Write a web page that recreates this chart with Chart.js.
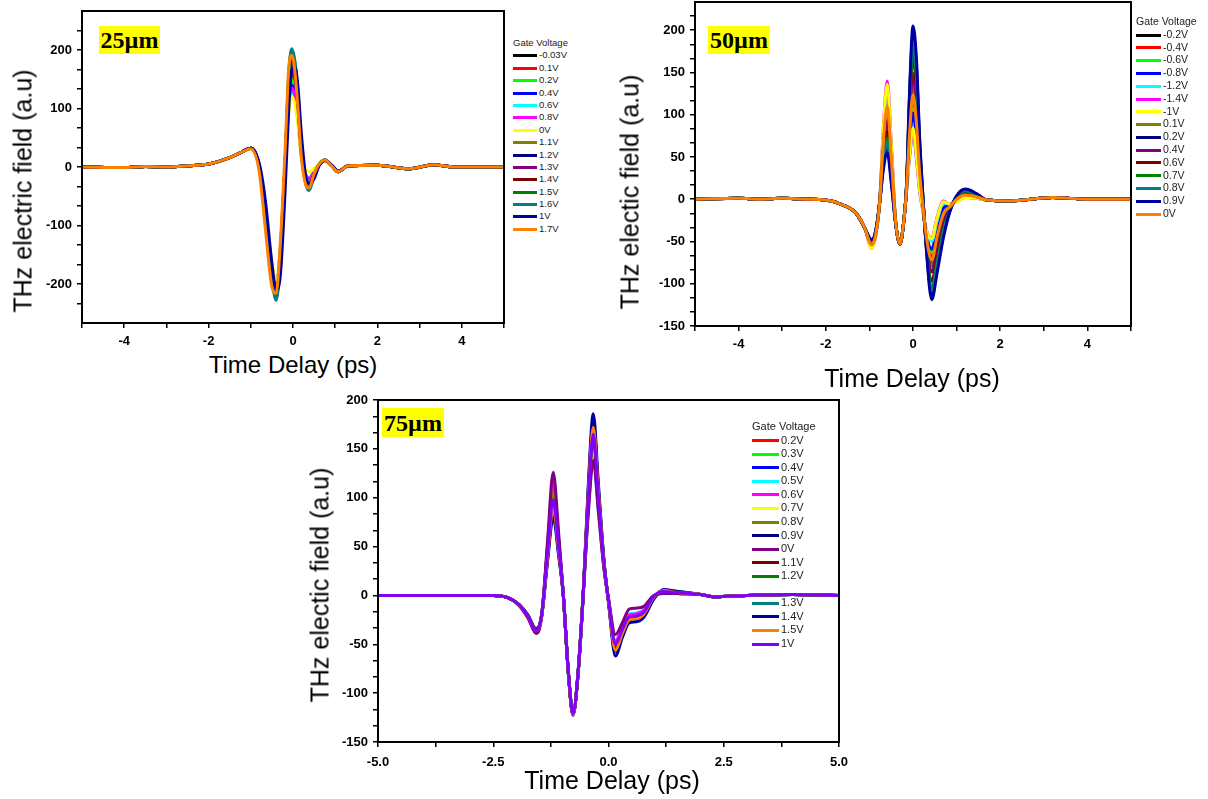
<!DOCTYPE html>
<html>
<head>
<meta charset="utf-8">
<script src="https://cdn.jsdelivr.net/npm/chart.js@4.4.1/dist/chart.umd.min.js"></script>
<style>
body { margin:0; background:#fff; }
#page { position:relative; width:1208px; height:799px; overflow:hidden; font-family:"Liberation Sans", Arial, sans-serif; background:#fff; }
canvas { position:absolute; }
.tag { position:absolute; background:#ffff00; font:bold 24px "Liberation Serif", "Times New Roman", serif; color:#000; text-align:center; }
.ttl { position:absolute; white-space:nowrap; color:#000; transform:translate(-50%,-50%); }
.ytl { transform:translate(-50%,-50%) rotate(-90deg); }
.legend { position:absolute; color:#222; white-space:nowrap; }
.legend span { display:inline-block; vertical-align:middle; margin-right:2px; }
</style>
</head>
<body>
<div id="page">
  <canvas id="c25" width="510" height="350" style="left:0;top:0"></canvas>
  <canvas id="c50" width="540" height="350" style="left:600px;top:0"></canvas>
  <canvas id="c75" width="560" height="385" style="left:300px;top:390px"></canvas>

  <div class="tag" style="left:99px;top:26px;width:61px;height:28px;line-height:29px">25µm</div>
  <div class="tag" style="left:708px;top:26px;width:62px;height:28px;line-height:29px">50µm</div>
  <div class="tag" style="left:382px;top:408px;width:62px;height:29px;line-height:30px">75µm</div>

  <div class="ttl ytl" style="left:23px;top:191px;font-size:25px;line-height:25px">THz electric field (a.u)</div>
  <div class="ttl ytl" style="left:630px;top:192px;font-size:25px;line-height:25px">THz electic field (a.u)</div>
  <div class="ttl ytl" style="left:320px;top:585px;font-size:25px;line-height:25px">THz electic field (a.u)</div>

  <div class="ttl" style="left:293px;top:365px;font-size:24px;line-height:24px">Time Delay (ps)</div>
  <div class="ttl" style="left:912px;top:378px;font-size:25px;line-height:25px">Time Delay (ps)</div>
  <div class="ttl" style="left:612px;top:780px;font-size:25px;line-height:25px">Time Delay (ps)</div>

  <div class="legend" id="lg25" style="left:513px;top:37px"></div>
  <div class="legend" id="lg50" style="left:1136px;top:15px"></div>
  <div class="legend" id="lg75" style="left:752px;top:420px"></div>
</div>
<script>
// ---------- 25um panel ----------
var t25 = [-5,-4,-3.5,-3,-2.5,-2,-1.5,-1.2,-1.0,-0.8,-0.65,-0.5,-0.4,-0.3,-0.19,-0.1,-0.03,0.05,0.12,0.2,0.3,0.38,0.5,0.62,0.76,0.92,1.07,1.3,2.0,2.74,3.34,3.8,5];
var gates25 = ['-0.03V','0.1V','0.2V','0.4V','0.6V','0.8V','0V','1.1V','1.2V','1.3V','1.4V','1.5V','1.6V','1V','1.7V'];
var e25_m003 = [0,-1,1,0,2,5,16,26,32,1,-83,-176,-210,-147,0,138,175,154,104,24,-22,-30,-12,4,11,2,-8,2,3,-3,4,0,0];
var e25_01 = [0,-1,1,0,2,5,16,26,32,1,-81,-172,-205,-143,0,126,160,141,95,22,-18,-25,-10,4,11,2,-8,2,3,-3,4,0,0];
var e25_02 = [0,-1,1,0,2,5,16,26,32,1,-81,-172,-205,-143,0,118,150,132,89,21,-16,-22,-9,4,11,2,-8,2,3,-3,4,0,0];
var e25_04 = [0,-1,1,0,2,5,16,26,32,1,-79,-168,-200,-140,0,110,140,124,83,19,-14,-20,-8,4,11,2,-8,2,3,-3,4,0,0];
var e25_06 = [0,-1,1,0,2,5,16,26,32,1,-78,-166,-198,-138,0,102,130,115,77,18,-12,-18,-7,4,11,2,-8,2,3,-3,4,0,0];
var e25_08 = [0,-1,1,0,2,5,16,26,32,1,-79,-168,-200,-140,0,106,135,119,80,18,-13,-20,-8,4,11,2,-8,2,3,-3,4,0,0];
var e25_0 = [0,-1,1,0,2,5,16,26,32,1,-76,-162,-193,-135,0,94,120,106,71,16,-4,-8,-3,5,10,2,-7,2,3,-3,4,0,0];
var e25_11 = [0,-1,1,0,2,5,16,26,32,0,-85,-180,-215,-151,0,142,180,159,107,25,-23,-32,-13,4,12,2,-8,2,3,-3,4,0,0];
var e25_12 = [0,-1,1,0,2,5,16,26,32,0,-86,-182,-218,-153,0,146,185,163,110,26,-24,-33,-13,4,12,2,-8,2,3,-3,4,0,0];
var e25_13 = [0,-1,1,0,2,5,16,26,32,1,-84,-178,-212,-149,0,134,170,150,101,24,-21,-30,-12,4,11,2,-8,2,3,-3,4,0,0];
var e25_14 = [0,-1,1,0,2,5,16,26,32,0,-87,-184,-220,-154,0,149,188,166,112,26,-25,-35,-14,4,12,2,-8,2,3,-3,4,0,0];
var e25_15 = [0,-1,1,0,2,5,16,26,32,0,-89,-188,-225,-158,0,157,199,175,118,27,-27,-38,-15,4,12,2,-8,2,3,-3,4,0,0];
var e25_16 = [0,-1,1,0,2,5,16,26,32,0,-90,-190,-228,-160,0,160,202,178,120,28,-28,-40,-16,4,12,2,-8,2,3,-3,4,0,0];
var e25_1 = [0,-1,1,0,2,5,16,26,32,6,-60,-165,-210,-185,-45,100,165,170,135,55,-15,-28,-20,2,11,3,-7,2,3,-3,4,0,0];
var e25_17 = [0,-1,1,0,2,5,16,26,31,-8,-110,-205,-216,-130,25,170,191,160,98,15,-30,-36,-12,5,12,1,-8,2,3,-3,4,0,0];
var field25 = [e25_m003,e25_01,e25_02,e25_04,e25_06,e25_08,e25_0,e25_11,e25_12,e25_13,e25_14,e25_15,e25_16,e25_1,e25_17];
var xTicks25 = [-5,-4,-3,-2,-1,0,1,2,3,4,5];
var xLabels25 = [-4,-2,0,2,4];
var yTicks25 = [-233.33,-200,-166.67,-133.33,-100,-66.67,-33.33,0,33.33,66.67,100,133.33,166.67,200,233.33];
var yLabels25 = [-200,-100,0,100,200];

// ---------- 50um panel ----------
var t50 = [-5,-4,-3.5,-3,-2.5,-2,-1.6,-1.3,-1.1,-0.95,-0.85,-0.76,-0.68,-0.59,-0.5,-0.4,-0.3,-0.22,-0.15,-0.08,0,0.08,0.15,0.22,0.3,0.43,0.55,0.7,0.85,1.0,1.2,1.45,1.7,2.2,3.2,4,5];
var gates50 = ['-0.2V','-0.4V','-0.6V','-0.8V','-1.2V','-1.4V','-1V','0.1V','0.2V','0.4V','0.6V','0.7V','0.8V','0.9V','0V'];
var e50_m02 = [0,1,0,1,0,-1,-7,-17,-35,-54,-39,-1,64,104,48,-26,-53,-30,11,82,133,97,38,-3,-43,-77,-50,-20,-9,0,6,3,-1,-2,2,0,0];
var e50_m04 = [0,1,0,1,0,-1,-7,-17,-35,-55,-40,-1,70,115,54,-26,-53,-30,10,73,118,83,30,-5,-41,-68,-42,-15,-8,-1,5,2,-1,-2,2,0,0];
var e50_m06 = [0,1,0,1,0,-1,-7,-17,-35,-56,-41,0,74,121,57,-26,-53,-30,10,67,107,74,24,-7,-40,-62,-36,-11,-7,-1,4,2,-1,-2,2,0,0];
var e50_m08 = [0,1,0,1,0,-1,-7,-17,-35,-56,-41,0,76,125,59,-26,-53,-30,9,64,102,69,22,-8,-39,-59,-34,-10,-7,-2,4,2,-1,-2,2,0,0];
var e50_m12 = [0,1,0,1,0,-1,-7,-17,-35,-57,-41,0,80,131,63,-25,-53,-30,8,48,78,47,10,-11,-36,-50,-26,-5,-6,-2,3,1,-1,-2,2,0,0];
var e50_m14 = [0,1,0,1,0,-1,-7,-17,-35,-58,-42,0,85,140,68,-25,-53,-30,8,50,80,48,10,-12,-35,-46,-22,-2,-6,-3,2,1,-1,-2,2,0,0];
var e50_m1 = [0,1,0,1,0,-1,-7,-17,-35,-58,-42,0,84,136,66,-25,-53,-30,8,52,84,51,12,-11,-35,-47,-23,-3,-6,-3,2,1,-1,-2,2,0,0];
var e50_01 = [0,1,0,1,0,-1,-7,-17,-35,-54,-39,-1,63,102,46,-26,-53,-30,11,84,136,101,39,-2,-44,-79,-52,-21,-9,0,6,3,-1,-2,2,0,0];
var e50_02 = [0,1,0,1,0,-1,-7,-17,-35,-49,-36,-2,39,62,24,-28,-53,-30,14,120,195,156,70,9,-53,-113,-83,-41,-13,3,11,6,-1,-2,2,0,0];
var e50_04 = [0,1,0,1,0,-1,-7,-17,-35,-53,-39,-1,58,93,42,-27,-53,-30,12,92,149,112,46,0,-46,-86,-58,-26,-10,1,7,4,-1,-2,2,0,0];
var e50_06 = [0,1,0,1,0,-1,-7,-17,-35,-51,-38,-1,50,80,34,-27,-53,-30,13,103,168,130,56,3,-49,-97,-68,-32,-12,2,9,5,-1,-2,2,0,0];
var e50_07 = [0,1,0,1,0,-1,-7,-17,-35,-50,-37,-2,45,72,30,-27,-53,-30,14,111,180,142,62,6,-51,-105,-75,-36,-12,3,10,6,-1,-2,2,0,0];
var e50_08 = [0,1,0,1,0,-1,-7,-17,-35,-50,-37,-2,43,68,27,-28,-53,-30,14,115,186,148,65,7,-52,-108,-78,-38,-13,3,10,6,-1,-2,2,0,0];
var e50_09 = [0,1,0,1,0,-1,-7,-17,-35,-48,-36,-2,35,55,20,-28,-53,-30,15,126,205,165,75,10,-55,-119,-88,-45,-14,4,12,7,-1,-2,2,0,0];
var e50_0 = [0,1,0,1,0,-1,-7,-17,-35,-54,-40,-1,68,110,51,-26,-53,-30,10,77,124,89,33,-4,-42,-72,-45,-17,-9,0,5,3,-1,-2,2,0,0];
var field50 = [e50_m02,e50_m04,e50_m06,e50_m08,e50_m12,e50_m14,e50_m1,e50_01,e50_02,e50_04,e50_06,e50_07,e50_08,e50_09,e50_0];
var xTicks50 = [-5,-4,-3,-2,-1,0,1,2,3,4,5];
var xLabels50 = [-4,-2,0,2,4];
var yTicks50 = [-150,-133.33,-116.67,-100,-83.33,-66.67,-50,-33.33,-16.67,0,16.67,33.33,50,66.67,83.33,100,116.67,133.33,150,166.67,183.33,200,216.67];
var yLabels50 = [-150,-100,-50,0,50,100,150,200];

// ---------- 75um panel ----------
var t75 = [-5,-4,-3.2,-2.5,-2.2,-1.95,-1.75,-1.57,-1.45,-1.32,-1.2,-1.08,-0.98,-0.87,-0.77,-0.66,-0.55,-0.44,-0.33,-0.22,-0.1,0,0.15,0.3,0.45,0.6,0.77,0.98,1.2,1.5,2.0,2.3,3,4,5];
var gates75 = ['0.2V','0.3V','0.4V','0.5V','0.6V','0.7V','0.8V','0.9V','0V','1.1V','1.2V','1.3V','1.4V','1.5V','1V'];
var e75_02 = [0,0,0,0,-2,-9,-21,-36,-20,50,110,55,0,-79,-121,-79,0,90,150,93,30,-5,-48,-34,-20,-19,-15,-1,3,2,1,-1.5,0,1,0];
var e75_03 = [0,0,0,0,-2,-9,-21,-36,-20,47,105,52,0,-79,-121,-79,0,93,155,96,31,-5,-50,-35,-21,-20,-16,-1,3,2,1,-1.5,0,1,0];
var e75_04 = [0,0,0,0,-2,-9,-21,-36,-20,49,108,54,0,-79,-121,-79,0,89,148,92,30,-5,-49,-34,-22,-21,-17,-1,3,2,1,-1.5,0,1,0];
var e75_05 = [0,0,0,0,-2,-9,-21,-35,-19,50,112,56,0,-78,-120,-78,0,84,140,87,28,-4,-46,-32,-19,-18,-14,-1,3,2,1,-1.5,0,1,0];
var e75_06 = [0,0,0,0,-2,-9,-21,-35,-19,52,115,57,0,-78,-120,-78,0,87,145,90,29,-4,-47,-33,-20,-19,-15,-1,3,2,1,-1.5,0,1,0];
var e75_07 = [0,0,0,0,-2,-9,-21,-36,-20,45,100,50,0,-79,-121,-79,0,91,152,94,30,-5,-51,-36,-23,-22,-18,-2,4,3,1,-1.5,0,1,0];
var e75_08 = [0,0,0,0,-2,-9,-21,-36,-20,47,105,52,0,-79,-121,-79,0,95,158,98,32,-5,-52,-36,-24,-23,-18,-2,4,3,1,-1.5,0,1,0];
var e75_09 = [0,0,0,0,-2,-9,-21,-37,-21,40,90,45,0,-80,-122,-80,0,99,165,102,33,-6,-55,-38,-25,-24,-19,-2,5,3,1,-1.5,0,1,0];
var e75_0 = [0,0,0,0,-2,-10,-23,-39,-22,57,126,63,0,-80,-123,-80,0,83,138,86,28,-3,-40,-28,-14,-13,-11,0,2,2,1,-1.5,0,1,0];
var e75_11 = [0,0,0,0,-2,-9,-21,-36,-21,43,95,47,0,-80,-122,-80,0,101,168,104,34,-6,-53,-37,-24,-23,-18,-2,4,3,1,-1.5,0,1,0];
var e75_12 = [0,0,0,0,-2,-9,-20,-35,-21,39,88,44,0,-80,-122,-80,0,105,175,108,35,-6,-57,-40,-26,-25,-20,-3,5,4,1,-1.5,0,1,0];
var e75_13 = [0,0,0,0,-2,-9,-20,-35,-21,38,85,42,0,-80,-122,-80,0,107,178,110,36,-6,-58,-41,-27,-26,-21,-3,5,4,1,-1.5,0,1,0];
var e75_14 = [0,0,0,0,-2,-9,-20,-34,-21,36,80,40,0,-80,-122,-80,0,112,186,115,37,-7,-62,-43,-28,-27,-22,-4,6,4,1,-1.5,0,1,0];
var e75_15 = [0,0,0,0,-2,-9,-21,-36,-21,40,90,45,0,-80,-122,-80,0,103,172,107,34,-6,-56,-39,-25,-24,-19,-2,5,3,1,-1.5,0,1,0];
var e75_1 = [0,0,0,0,-2,-9,-21,-36,-20,44,98,49,0,-79,-121,-79,0,99,165,102,33,-5,-50,-35,-22,-21,-17,-1,4,3,1,-1.5,0,1,0];
var field75 = [e75_02,e75_03,e75_04,e75_05,e75_06,e75_07,e75_08,e75_09,e75_0,e75_11,e75_12,e75_13,e75_14,e75_15,e75_1];
var xTicks75 = [-5,-3.75,-2.5,-1.25,0,1.25,2.5,3.75,5];
var xLabels75 = [-5,-2.5,0,2.5,5];
var yTicks75 = [-150,-133.33,-116.67,-100,-83.33,-66.67,-50,-33.33,-16.67,0,16.67,33.33,50,66.67,83.33,100,116.67,133.33,150,166.67,183.33,200];
var yLabels75 = [-150,-100,-50,0,50,100,150,200];

// Origin-style line colours
var colors25 = ['#000000','#ff0000','#00ff00','#0000ff','#00ffff','#ff00ff','#ffff00','#808000','#000080','#800080','#800000','#008000','#008080','#0000a0','#ff8000'];
var colors50 = colors25;
var colors75 = ['#ff0000','#00ff00','#0000ff','#00ffff','#ff00ff','#ffff00','#808000','#000080','#800080','#800000','#008000','#008080','#0000a0','#ff8000','#8000ff'];

Chart.defaults.font.family = '"Liberation Sans", Arial, sans-serif';

var framePlugin = {
  id: 'frame',
  afterDatasetsDraw: function(chart) {
    var a = chart.chartArea, ctx = chart.ctx;
    ctx.save();
    ctx.strokeStyle = '#000';
    ctx.lineWidth = 2;
    ctx.strokeRect(a.left, a.top, a.right - a.left, a.bottom - a.top);
    ctx.restore();
  }
};

function labeler(labels, digits) {
  return function(value) {
    for (var i = 0; i < labels.length; i++) {
      if (Math.abs(labels[i] - value) < 1e-6) return digits ? value.toFixed(digits) : String(value);
    }
    return '';
  };
}

function axis(min, max, ticks, labels, digits, size, pad) {
  return {
    type: 'linear', min: min, max: max,
    afterBuildTicks: function(s) { s.ticks = ticks.map(function(v) { return {value: v}; }); },
    afterFit: function(s) {
      if (s.isHorizontal()) s.height = size; else s.width = size;
      // keep the plot box exactly where the padding puts it
      s.paddingTop = 0; s.paddingBottom = 0; s.paddingLeft = 0; s.paddingRight = 0;
    },
    grid: {drawOnChartArea: false, drawTicks: true, tickLength: 5, color: '#000', lineWidth: 1.5},
    border: {display: true, color: '#000', width: 2},
    ticks: {autoSkip: false, maxRotation: 0, padding: pad, color: '#000',
            font: {size: 13, weight: 'bold'}, callback: labeler(labels, digits)}
  };
}

function makeChart(id, t, series, colors, o) {
  var datasets = series.map(function(vals, i) {
    return {
      label: o.names[i],
      data: t.map(function(x, j) { return {x: x, y: vals[j]}; }),
      borderColor: colors[i], backgroundColor: colors[i],
      borderWidth: 3, pointRadius: 0, fill: false,
      cubicInterpolationMode: 'monotone',
      order: series.length - i
    };
  });
  return new Chart(document.getElementById(id), {
    type: 'line',
    data: {datasets: datasets},
    options: {
      responsive: false, animation: false, events: [],
      layout: {padding: o.pad},
      plugins: {legend: {display: false}, tooltip: {enabled: false}},
      scales: {
        x: axis(o.xmin, o.xmax, o.xt, o.xl, o.xd, o.xh, o.xpad),
        y: axis(o.ymin, o.ymax, o.yt, o.yl, 0, o.yw, 5)
      }
    },
    plugins: [framePlugin]
  });
}

function buildLegend(id, names, colors, font, rowH, swW, gapAfter) {
  var el = document.getElementById(id);
  el.style.fontSize = font + 'px';
  var row = 'height:' + rowH + 'px;line-height:' + rowH + 'px';
  var html = '<div style="' + row + '">Gate Voltage</div>';
  for (var i = 0; i < names.length; i++) {
    html += '<div style="' + row + '"><span style="width:' + swW + 'px;height:3px;background:' + colors[i] + '"></span>' + names[i] + '</div>';
    if (i === gapAfter) html += '<div style="' + row + '"></div>';
  }
  el.innerHTML = html;
}

makeChart('c25', t25, field25, colors25, {names: gates25,
  pad: {top: 11, right: 6, left: 0, bottom: 0},
  xmin: -5, xmax: 5, xt: xTicks25, xl: xLabels25, xd: 0, xh: 27, xpad: 6,
  ymin: -266.67, ymax: 266.67, yt: yTicks25, yl: yLabels25, yw: 82});

makeChart('c50', t50, field50, colors50, {names: gates50,
  pad: {top: 2, right: 9, left: 0, bottom: 0},
  xmin: -5, xmax: 5, xt: xTicks50, xl: xLabels50, xd: 0, xh: 24, xpad: 6,
  ymin: -150, ymax: 233.33, yt: yTicks50, yl: yLabels50, yw: 95});

makeChart('c75', t75, field75, colors75, {names: gates75,
  pad: {top: 10, right: 21, left: 0, bottom: 0},
  xmin: -5, xmax: 5, xt: xTicks75, xl: xLabels75, xd: 1, xh: 33, xpad: 8,
  ymin: -150, ymax: 200, yt: yTicks75, yl: yLabels75, yw: 78});

buildLegend('lg25', gates25, colors25, 9.5, 12.4, 24, -1);
buildLegend('lg50', gates50, colors50, 10.5, 12.8, 25, -1);
buildLegend('lg75', gates75, colors75, 11, 13.57, 27, 10);
</script>
</body>
</html>
